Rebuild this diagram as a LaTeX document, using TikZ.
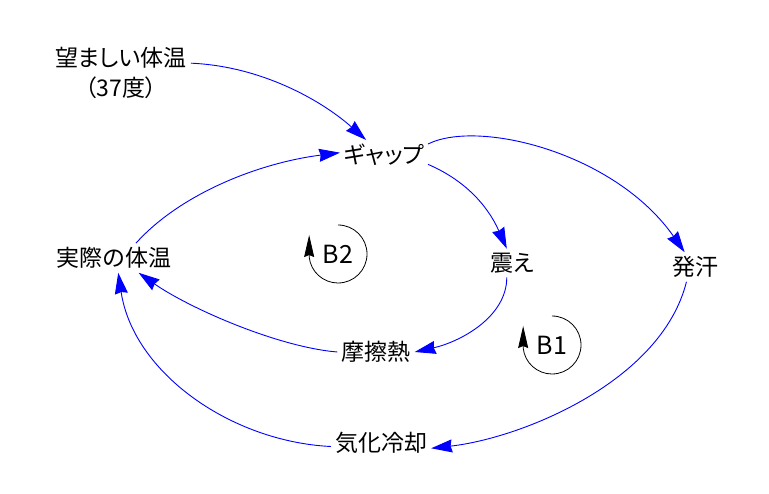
\documentclass[tikz,border=0pt]{standalone}
\usepackage{fontspec}
\setmainfont[RawFeature=+palt]{Noto Sans CJK JP}
\usetikzlibrary{arrows.meta}
\definecolor{linkblue}{RGB}{0,0,255}
\tikzset{
  var/.style={inner sep=4pt, font=\fontsize{23}{30}\selectfont, text=black},
  link/.style={draw=linkblue, line width=0.9pt, -{Stealth[length=21pt,width=13pt,inset=1.5pt,linkblue]}, fill=none},
  looplabel/.style={inner sep=0pt, font=\fontsize{25}{30}\selectfont, text=black},
  looparc/.style={draw=black, line width=0.8pt, -{Stealth[length=22pt,width=10pt,inset=2pt]}},
}
\begin{document}
\begin{tikzpicture}[x=1pt,y=-1pt]
\fill[white] (0,0) rectangle (769,494);
\useasboundingbox (0,0) rectangle (769,494);

\node[var, align=center] (want) at (121,73) {望ましい体温\\（37度）};
\node[var] (gap) at (384,155) {ギャップ};
\node[var] (actual) at (114,258) {実際の体温};
\node[var] (shiver) at (512,263) {震え};
\node[var] (sweat) at (695,267) {発汗};
\node[var] (friction) at (376,352) {摩擦熱};
\node[var] (evap) at (381,443) {気化冷却};

\node[looplabel] (b2) at (338,254) {B2};
\node[looplabel] (b1) at (552,345) {B1};

\draw[link] (want.8) .. controls +(70,3) and +(-45,-40) .. (gap.140);
\draw[link] (actual.34) .. controls +(45,-50) and +(-80,10) .. (gap.177);
\draw[link] (gap.-12) .. controls +(35,15) and +(-20,-45) .. (shiver.110);
\draw[link] (gap.14) .. controls +(50,-25) and +(-70,-100) .. (sweat.125);
\draw[link] (shiver.-110) .. controls +(0,40) and +(45,-10) .. (friction.east);
\draw[link] (sweat.-120) .. controls +(-25,100) and +(90,-10) .. (evap.-6);
\draw[link] (friction.west) .. controls +(-60,-5) and +(50,35) .. (actual.-31);
\draw[link] (evap.184) .. controls +(-100,-5) and +(15,100) .. (actual.-74);

\draw[looparc] (b2.center) ++(-90:29) arc[start angle=-90, end angle=174, radius=29] -- ++(0,-22);
\draw[looparc] (b1.center) ++(-90:29) arc[start angle=-90, end angle=174, radius=29] -- ++(0,-22);
\end{tikzpicture}
\end{document}
